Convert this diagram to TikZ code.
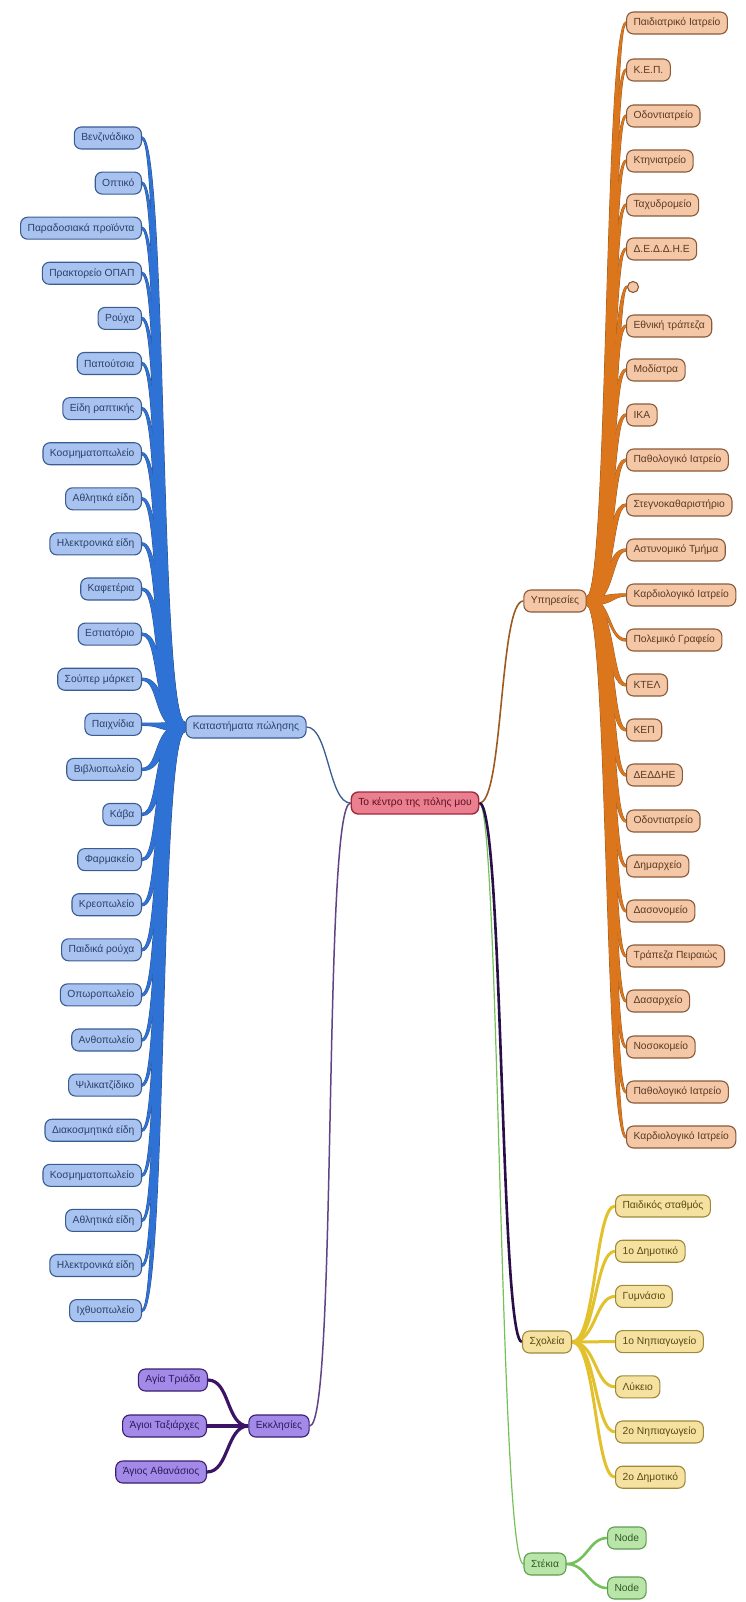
\documentclass[tikz,border=0pt]{standalone}
\usepackage{fontspec}
\setmainfont{Liberation Sans}
\usetikzlibrary{backgrounds,calc}
\pgfdeclarelayer{bg}
\pgfsetlayers{bg,background,main}

% shop branch (blue)
\definecolor{kfill}{HTML}{A8C3EF}
\definecolor{kline}{HTML}{3A5C92}
\definecolor{ktext}{HTML}{2A416C}
\definecolor{kconn}{HTML}{2F72D6}
\definecolor{kconnd}{HTML}{2A4F8C}
% services branch (orange)
\definecolor{yfill}{HTML}{F4C7A6}
\definecolor{yline}{HTML}{8A5A38}
\definecolor{ytext}{HTML}{5C3A22}
\definecolor{yconn}{HTML}{DB761C}
\definecolor{yconnd}{HTML}{9C5A20}
% schools branch (yellow)
\definecolor{sfill}{HTML}{F5E2A0}
\definecolor{sline}{HTML}{A08A3A}
\definecolor{stext}{HTML}{5A4A14}
\definecolor{sconn}{HTML}{E2C12C}
% hangouts branch (green)
\definecolor{gfill}{HTML}{B9E5A9}
\definecolor{gline}{HTML}{5E9E50}
\definecolor{gtext}{HTML}{2F5A26}
\definecolor{gconn}{HTML}{74C159}
% churches branch (purple)
\definecolor{pfill}{HTML}{A48AE8}
\definecolor{pline}{HTML}{3A1F70}
\definecolor{ptext}{HTML}{2E1A5A}
\definecolor{pconn}{HTML}{3B1466}
% centre
\definecolor{rfill}{HTML}{EA7F90}
\definecolor{rline}{HTML}{A2283C}
\definecolor{rtext}{HTML}{5A1020}

% tapered link: [style]{start}{end}{start control dx}{end control dx}
%   {start half width}{end half width}{sideways spread of the middle}
\newcommand{\taperlink}[8][]{%
  \path[#1] ($(#2)+(0,-#6)$) .. controls +({#4+#8},0) and +({#5+#8},0) .. ($(#3)+(0,-#7)$)
    -- ($(#3)+(0,#7)$) .. controls +({#5-#8},0) and +({#4-#8},0) .. ($(#2)+(0,#6)$) -- cycle;}

\begin{document}
\begin{tikzpicture}[x=1pt,y=-1pt,
  box/.style={rounded corners=7pt, line width=1.1pt, minimum height=22pt,
    inner xsep=7pt, inner ysep=2pt, font=\fontsize{10.3}{11}\selectfont},
  leafK/.style={box, fill=kfill, draw=kline, text=ktext},
  leafY/.style={box, fill=yfill, draw=yline, text=ytext},
  leafS/.style={box, fill=sfill, draw=sline, text=stext},
  leafG/.style={box, fill=gfill, draw=gline, text=gtext},
  leafP/.style={box, fill=pfill, draw=pline, text=ptext},
  rootbox/.style={box, fill=rfill, draw=rline, text=rtext, line width=1.4pt},
  connS/.style={draw=sconn, line width=3pt},
  connG/.style={draw=gconn, line width=2.6pt},
  connP/.style={draw=pconn, line width=3.2pt},
]
\begin{pgfonlayer}{bg}
  \fill[white] (0,0) rectangle (745,1602);
\end{pgfonlayer}
\useasboundingbox (0,0) rectangle (745,1602);

% centre and main branches
\node[rootbox] (root) at (415,803) {Το κέντρο της πόλης μου};
\node[leafK] (hubK) at (246,727) {Καταστήματα πώλησης};
\node[leafY] (hubY) at (555,601) {Υπηρεσίες};
\node[leafS] (hubS) at (547,1342) {Σχολεία};
\node[leafG] (hubG) at (545,1564) {Στέκια};
\node[leafP] (hubP) at (279,1426) {Εκκλησίες};

% shops
\foreach \t [count=\i] in {Βενζινάδικο, Οπτικό, Παραδοσιακά προϊόντα,
  Πρακτορείο ΟΠΑΠ, Ρούχα, Παπούτσια, Είδη ραπτικής, Κοσμηματοπωλείο,
  Αθλητικά είδη, Ηλεκτρονικά είδη, Καφετέρια, Εστιατόριο, Σούπερ μάρκετ,
  Παιχνίδια, Βιβλιοπωλείο, Κάβα, Φαρμακείο, Κρεοπωλείο, Παιδικά ρούχα,
  Οπωροπωλείο, Ανθοπωλείο, Ψιλικατζίδικο, Διακοσμητικά είδη,
  Κοσμηματοπωλείο, Αθλητικά είδη, Ηλεκτρονικά είδη, Ιχθυοπωλείο}
  \node[leafK, anchor=east] (k\i) at (142,{138+45.1*(\i-1)}) {\t};

% services
\foreach \t/\y [count=\i] in {Παιδιατρικό Ιατρείο/23, Κ.Ε.Π./70,
  Οδοντιατρείο/116, Κτηνιατρείο/161, Ταχυδρομείο/205, Δ.Ε.Δ.Δ.Η.Ε/249,
  Εθνική τράπεζα/326, Μοδίστρα/370, ΙΚΑ/415, Παθολογικό Ιατρείο/460,
  Στεγνοκαθαριστήριο/505, Αστυνομικό Τμήμα/550, Καρδιολογικό Ιατρείο/595,
  Πολεμικό Γραφείο/640, ΚΤΕΛ/685, ΚΕΠ/730, ΔΕΔΔΗΕ/775, Οδοντιατρείο/821,
  Δημαρχείο/866, Δασονομείο/911, Τράπεζα Πειραιώς/956, Δασαρχείο/1001,
  Νοσοκομείο/1047, Παθολογικό Ιατρείο/1092, Καρδιολογικό Ιατρείο/1137}
  \node[leafY, anchor=west] (r\i) at (626,\y) {\t};
\node[circle, fill=yfill, draw=yline, line width=1.1pt, minimum size=11pt,
  inner sep=0pt, anchor=west] (rc) at (627,287) {};

% schools
\foreach \t [count=\i] in {Παιδικός σταθμός, 1ο Δημοτικό, Γυμνάσιο,
  1ο Νηπιαγωγείο, Λύκειο, 2ο Νηπιαγωγείο, 2ο Δημοτικό}
  \node[leafS, anchor=west] (s\i) at (615,{1206+45.2*(\i-1)}) {\t};

% hangouts
\node[leafG, anchor=west] (g1) at (607,1538) {Node};
\node[leafG, anchor=west] (g2) at (607,1588) {Node};

% churches
\node[leafP, anchor=east] (p1) at (208,1380) {Αγία Τριάδα};
\node[leafP, anchor=east] (p2) at (207,1426) {Άγιοι Ταξιάρχες};
\node[leafP, anchor=east] (p3) at (207,1472) {Άγιος Αθανάσιος};

\begin{pgfonlayer}{background}
  % centre to branches
  \draw[draw=kline, line width=1.3pt] (root.west) .. controls +(-22,0) and +(22,0) .. (hubK.east);
  \draw[draw=pconn!80!white, line width=1.5pt] (root.west) .. controls +(-28,0) and +(28,0) .. (hubP.east);
  \draw[draw=yconnd, line width=1.6pt] (root.east) .. controls +(24,0) and +(-24,0) .. (hubY.west);
  \draw[draw=gconn, line width=1.2pt] (root.east) .. controls +(20,0) and +(-24,0) .. (hubG.west);
  \draw[draw=pconn!70!black, line width=2.6pt] (root.east) .. controls +(24,0) and +(-22,0) .. (hubS.west);

  % shop connectors: dark rim first, then the blue body
  \foreach \i in {1,...,27} {
    \pgfmathsetmacro\dd{\i<14 ? 3.5 : (\i>14 ? -3.5 : 0)}
    \taperlink[draw=kconnd, line width=0.9pt]{hubK.west}{k\i.east}{-30}{22}{4.2}{1.2}{\dd}
  }
  \foreach \i in {1,...,27} {
    \pgfmathsetmacro\dd{\i<14 ? 3.5 : (\i>14 ? -3.5 : 0)}
    \taperlink[fill=kconn]{hubK.west}{k\i.east}{-30}{22}{4.2}{1.2}{\dd}
  }

  % service connectors
  \foreach \i in {1,...,25} {
    \pgfmathsetmacro\dd{\i<14 ? -3.5 : (\i>14 ? 3.5 : 0)}
    \taperlink[draw=yconnd, line width=0.9pt]{hubY.east}{r\i.west}{25}{-18}{4.2}{1.2}{\dd}
  }
  \taperlink[draw=yconnd, line width=0.9pt]{hubY.east}{rc.west}{25}{-14}{4.2}{1.1}{-3.5}
  \foreach \i in {1,...,25} {
    \pgfmathsetmacro\dd{\i<14 ? -3.5 : (\i>14 ? 3.5 : 0)}
    \taperlink[fill=yconn]{hubY.east}{r\i.west}{25}{-18}{4.2}{1.2}{\dd}
  }
  \taperlink[fill=yconn]{hubY.east}{rc.west}{25}{-14}{4.2}{1.1}{-3.5}

  % school connectors
  \foreach \i in {1,...,7}
    \draw[connS] (hubS.east) .. controls +(24,0) and +(-20,0) .. (s\i.west);

  % hangout connectors
  \foreach \i in {1,2}
    \draw[connG] (hubG.east) .. controls +(20,0) and +(-18,0) .. (g\i.west);

  % church connectors
  \foreach \i in {1,2,3}
    \draw[connP] (hubP.west) .. controls +(-22,0) and +(22,0) .. (p\i.east);
\end{pgfonlayer}
\end{tikzpicture}
\end{document}
